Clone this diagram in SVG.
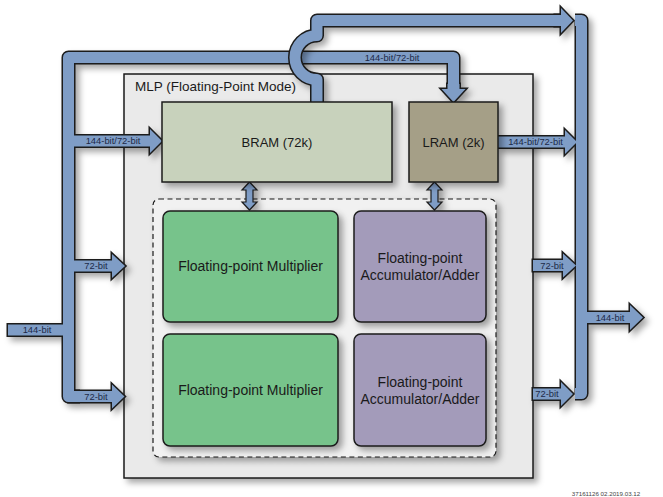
<svg xmlns="http://www.w3.org/2000/svg" width="663" height="497" viewBox="0 0 663 497">
<defs>
<filter id="sh" x="-10%" y="-10%" width="130%" height="130%">
<feDropShadow dx="4" dy="4" stdDeviation="3" flood-color="#000" flood-opacity="0.35"/>
</filter>
<style>
.po{fill:none;stroke:#1b1b1b;stroke-width:14;stroke-linejoin:round}
.pf{fill:none;stroke:#7f9dc6;stroke-width:11;stroke-linejoin:round}
.ao{fill:#1b1b1b;stroke:#1b1b1b;stroke-width:3;stroke-linejoin:miter}
.af{fill:#7f9dc6}
.lbl{font-family:"Liberation Sans",Arial,sans-serif;font-size:9.4px;fill:#1d2a48;text-anchor:middle}
.big{font-family:"Liberation Sans",Arial,sans-serif;font-size:14px;fill:#1a1a1a;text-anchor:middle}
.mid{font-family:"Liberation Sans",Arial,sans-serif;font-size:13px;fill:#1a1a1a;text-anchor:middle}
.box{stroke:#1b1b1b;stroke-width:1.5}
.dbl{fill:#7f9dc6;stroke:#1b1b1b;stroke-width:1.2}
</style>
</defs>
<rect width="663" height="497" fill="#ffffff"/>

<g id="mlp">
<rect x="124" y="74" width="409" height="404" fill="#eaeaea" class="box" filter="url(#sh)"/>
<text x="135" y="91" font-family="'Liberation Sans',Arial,sans-serif" font-size="13.5" fill="#1a1a1a">MLP (Floating-Point Mode)</text>
</g>

<g id="dashed-region">
<rect x="153" y="199" width="343" height="258" rx="6" fill="#f1f1f1" stroke="#1b1b1b" stroke-width="1.2" stroke-dasharray="5,3.5" filter="url(#sh)"/>
</g>

<g id="connectors">
<g id="bus-left" filter="url(#sh)">
<path class="po" d="M453.5,91 V57.5 H68.5 V396.5 H80"/>
<polygon class="ao" points="447.5,84 453.5,84 459.5,84 459.5,89 465.5,89 453.5,102 441.5,89 447.5,89"/>
<polygon class="ao" points="68.5,135.5 150,135.5 150,129 162,141 150,153 150,146.5 68.5,146.5"/>
<polygon class="ao" points="68.5,260.5 112,260.5 112,254 125,266 112,278 112,271.5 68.5,271.5"/>
<polygon class="ao" points="68.5,391 112,391 112,384.5 124.5,396.5 112,408.5 112,402 68.5,402"/>
<polygon class="ao" points="8,324.5 68.5,324.5 68.5,335.5 8,335.5"/>
<path class="pf" d="M453.5,91 V57.5 H68.5 V396.5 H80"/>
<polygon class="af" points="447.5,84 453.5,84 459.5,84 459.5,89 465.5,89 453.5,102 441.5,89 447.5,89"/>
<polygon class="af" points="68.5,135.5 150,135.5 150,129 162,141 150,153 150,146.5 68.5,146.5"/>
<polygon class="af" points="68.5,260.5 112,260.5 112,254 125,266 112,278 112,271.5 68.5,271.5"/>
<polygon class="af" points="68.5,391 112,391 112,384.5 124.5,396.5 112,408.5 112,402 68.5,402"/>
<polygon class="af" points="8,324.5 68.5,324.5 68.5,335.5 8,335.5"/>
</g>
<g id="bus-hop" filter="url(#sh)">
<path class="po" d="M317,102 V79.5 A22 22 0 0 1 317,35.5 V20.5 H563"/>
<polygon class="ao" points="555,15 561,15 561,8 573,20.5 561,33 561,26 555,26"/>
<path class="pf" d="M317,102 V79.5 A22 22 0 0 1 317,35.5 V20.5 H563"/>
<polygon class="af" points="555,15 561,15 561,8 573,20.5 561,33 561,26 555,26"/>
</g>
<g id="bus-right" filter="url(#sh)">
<path class="po" d="M575,20.5 H581.5 V393.5 H575"/>
<polygon class="ao" points="498,136.5 565,136.5 565,130 577,142 565,154 565,147.5 498,147.5"/>
<polygon class="ao" points="533,260 563,260 563,253.5 576,265.5 563,277.5 563,271 533,271"/>
<polygon class="ao" points="533,388.5 561,388.5 561,382 573,394 561,406 561,399.5 533,399.5"/>
<polygon class="ao" points="581.5,312 630,312 630,305 643,317.5 630,330 630,323 581.5,323"/>
<path class="pf" d="M575,20.5 H581.5 V393.5 H575"/>
<polygon class="af" points="498,136.5 565,136.5 565,130 577,142 565,154 565,147.5 498,147.5"/>
<polygon class="af" points="533,260 563,260 563,253.5 576,265.5 563,277.5 563,271 533,271"/>
<polygon class="af" points="533,388.5 561,388.5 561,382 573,394 561,406 561,399.5 533,399.5"/>
<polygon class="af" points="581.5,312 630,312 630,305 643,317.5 630,330 630,323 581.5,323"/>
</g>
<g id="double-arrows" filter="url(#sh)">
<polygon class="dbl" points="249.5,182 257,190 253,190 253,202 257,202 249.5,210 242,202 246,202 246,190 242,190"/>
<polygon class="dbl" points="434.5,182 442,190 438,190 438,202 442,202 434.5,210 427,202 431,202 431,190 427,190"/>
</g>
<g id="bus-labels">
<text class="lbl" x="392" y="60.8">144-bit/72-bit</text>
<text class="lbl" x="113" y="144.3">144-bit/72-bit</text>
<text class="lbl" x="96" y="269.3">72-bit</text>
<text class="lbl" x="96" y="399.8">72-bit</text>
<text class="lbl" x="37" y="333.3">144-bit</text>
<text class="lbl" x="535.5" y="145.3">144-bit/72-bit</text>
<text class="lbl" x="552" y="268.8">72-bit</text>
<text class="lbl" x="547" y="397.3">72-bit</text>
<text class="lbl" x="610" y="320.8">144-bit</text>
</g>
</g>

<g id="bram">
<rect x="162" y="102" width="230" height="80" fill="#c8d2bc" class="box" filter="url(#sh)"/>
<text class="mid" x="277" y="146.5">BRAM (72k)</text>
</g>
<g id="lram">
<rect x="409" y="102" width="89" height="80" fill="#a59f87" class="box" filter="url(#sh)"/>
<text class="mid" x="453.5" y="146.5">LRAM (2k)</text>
</g>
<g id="mult1">
<rect x="163" y="211" width="175" height="111" rx="7" fill="#77c38b" class="box" filter="url(#sh)"/>
<text class="big" x="250.5" y="271">Floating-point Multiplier</text>
</g>
<g id="mult2">
<rect x="163" y="334" width="175" height="112" rx="7" fill="#77c38b" class="box" filter="url(#sh)"/>
<text class="big" x="250.5" y="395">Floating-point Multiplier</text>
</g>
<g id="acc1">
<rect x="354" y="211" width="132" height="111" rx="7" fill="#a39bba" class="box" filter="url(#sh)"/>
<text class="big" x="420" y="263">Floating-point</text>
<text class="big" x="420" y="280">Accumulator/Adder</text>
</g>
<g id="acc2">
<rect x="354" y="334" width="132" height="112" rx="7" fill="#a39bba" class="box" filter="url(#sh)"/>
<text class="big" x="420" y="387">Floating-point</text>
<text class="big" x="420" y="404">Accumulator/Adder</text>
</g>
<text x="606" y="495.5" font-family="'Liberation Sans',Arial,sans-serif" font-size="6.2" fill="#444" text-anchor="middle">37161126 02.2019.03.12</text>
</svg>
